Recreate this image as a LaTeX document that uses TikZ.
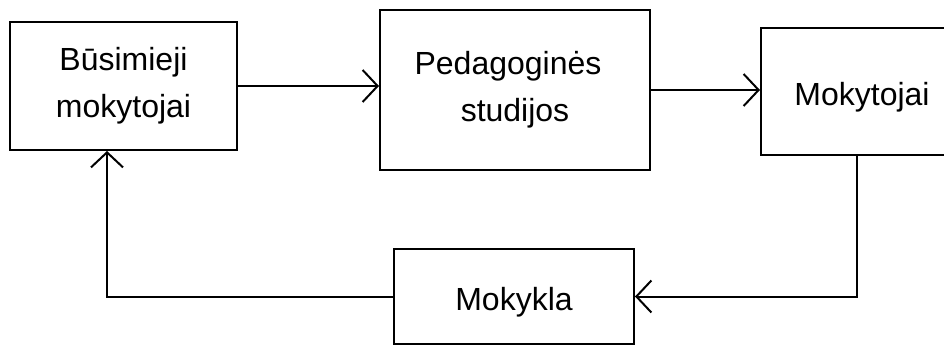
\documentclass[tikz,border=0pt]{standalone}
\usepackage{fontspec}
\setmainfont{Liberation Sans}
\usetikzlibrary{arrows.meta}
\begin{document}
\begin{tikzpicture}[x=1pt,y=-1pt,
  label text/.style={font=\fontsize{32}{47}\selectfont},
  box/.style={draw, line width=2pt, inner sep=0pt, align=center, label text},
  arr/.style={line width=2pt, -{Straight Barb[length=15pt,width=32pt,line width=2pt]}}]
  \useasboundingbox (0,0) rectangle (944,345);
  \clip (0,0) rectangle (944,345);
  % the four stations of the cycle
  \node[box, minimum width=227pt, minimum height=128pt] (b1) at (123.5,86)
    {Būsimieji\\mokytojai};
  \node[box, minimum width=270pt, minimum height=160pt] (b2) at (515,90)
    {Pedagoginės\hspace*{14pt}\\studijos};
  \node[box, minimum width=210pt, minimum height=127pt] (b3) at (866,91.5) {};
  \node[label text] (t3) at (862,97) {Mokytojai};
  \node[box, minimum width=240pt, minimum height=95pt] (b4) at (514,296.5) {};
  \node[label text] (t4) at (514,302) {Mokykla};
  % connectors
  \draw[arr] (b1.east) -- (b2.west |- b1.east);
  \draw[arr] (b2.east) -- (b3.west |- b2.east);
  \coordinate (down) at ([xshift=-9pt]b3.south);
  \draw[arr] (down) |- (b4.east);
  \coordinate (up) at ([xshift=-16.5pt]b1.south);
  \draw[arr] (b4.west) -| (up);
\end{tikzpicture}
\end{document}
